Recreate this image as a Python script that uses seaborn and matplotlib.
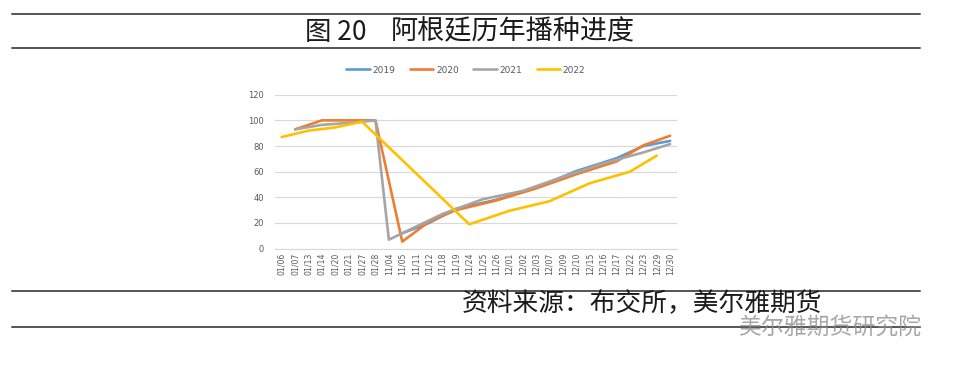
import numpy as np
import pandas as pd
import matplotlib
matplotlib.use("Agg")
import matplotlib.pyplot as plt
import seaborn as sns
from matplotlib.lines import Line2D

# x categories as shown on the axis
dates = ["01/06", "01/07", "01/13", "01/14", "01/20", "01/21", "01/27", "01/28",
         "11/04", "11/05", "11/11", "11/12", "11/18", "11/19", "11/24", "11/25",
         "11/26", "12/01", "12/02", "12/03", "12/07", "12/09", "12/10", "12/15",
         "12/16", "12/17", "12/22", "12/23", "12/29", "12/30"]

# each year only reports on some of the dates
dates_2019 = ["11/05", "11/12", "11/19", "11/26", "12/03", "12/10", "12/17", "12/23", "12/30"]
vals_2019 = [12, 20, 31, 38, 47.5, 60.5, 70.5, 80, 84]

dates_2020 = ["01/07", "01/14", "01/21", "01/28", "11/05", "11/12", "11/19", "11/26",
              "12/03", "12/10", "12/17", "12/23", "12/30"]
vals_2020 = [93, 100, 100, 100, 5.5, 21, 30, 37.5, 47, 58, 68, 80.5, 88]

dates_2021 = ["01/07", "01/14", "01/21", "01/28", "11/04", "11/11", "11/18", "11/25",
              "12/02", "12/09", "12/16", "12/23", "12/30"]
vals_2021 = [93, 96.5, 98, 100, 7, 17, 27, 38.5, 45, 56, 66.5, 75, 81.5]

dates_2022 = ["01/06", "01/13", "01/20", "01/27", "11/24", "12/01", "12/07", "12/15",
              "12/22", "12/29"]
vals_2022 = [87, 92, 94.5, 99, 19, 29.5, 37, 51, 60, 72.5]

years = ["2019", "2020", "2021", "2022"]
colors = ["#5B9BD5", "#ED7D31", "#A5A5A5", "#FFC000"]

rows = []
for yr, dd, vv in zip(years, [dates_2019, dates_2020, dates_2021, dates_2022],
                      [vals_2019, vals_2020, vals_2021, vals_2022]):
    for d, v in zip(dd, vv):
        rows.append({"year": yr, "pos": dates.index(d), "value": v})
df = pd.DataFrame(rows)

sns.set_style("white")
plt.rcParams['font.family'] = ['Noto Sans CJK SC', 'DejaVu Sans']

fig = plt.figure(figsize=(9.6, 3.7), dpi=100)
ax = fig.add_axes([0.2865, 0.328, 0.4185, 0.416])

sns.lineplot(data=df, x="pos", y="value", hue="year", palette=colors,
             linewidth=1.9, ax=ax, legend=False, sort=True)

ax.set_xlim(-0.5, len(dates) - 0.5)
ax.set_ylim(0, 120)
ax.set_yticks(range(0, 121, 20))
ax.set_xticks(range(len(dates)))
ax.set_xticklabels(dates, rotation=90, fontsize=5.6, color="#595959",
                   family="DejaVu Sans")
ax.tick_params(axis="y", labelsize=6, labelcolor="#595959", length=0, pad=8)
ax.tick_params(axis="x", length=0, pad=3)
ax.grid(axis="y", color="#D9D9D9", linewidth=0.8)
ax.set_axisbelow(True)
for s in ["top", "right", "left"]:
    ax.spines[s].set_visible(False)
ax.spines["bottom"].set_color("#D9D9D9")
ax.spines["bottom"].set_linewidth(0.8)
ax.set_xlabel("")
ax.set_ylabel("")
for lbl in ax.get_yticklabels():
    lbl.set_family("DejaVu Sans")

handles = [Line2D([], [], color=c, lw=1.9) for c in colors]
ax.legend(handles, years, ncol=4, loc="center", bbox_to_anchor=(0.475, 1.16),
          frameon=False, handlelength=2.6, columnspacing=1.6,
          handletextpad=0.3, labelcolor="#595959",
          prop={"family": "DejaVu Sans", "size": 6.5})

# title and source block with rules
for y in [1 - 14 / 370, 1 - 48 / 370, 1 - 291 / 370, 1 - 327 / 370]:
    fig.add_artist(Line2D([12 / 960, 920 / 960], [y, y], color="#555555", lw=1.4))
fig.text(305 / 960, 1 - 32 / 370, "图 20", ha="left", va="center",
         fontsize=19, color="#1A1A1A")
fig.text(391 / 960, 1 - 32 / 370, "阿根廷历年播种进度", ha="left", va="center",
         fontsize=19.5, color="#1A1A1A")
fig.text(462 / 960, 1 - 304 / 370, "资料来源：布交所，美尔雅期货", ha="left", va="center",
         fontsize=18.5, color="#1A1A1A")
fig.text(738 / 960, 1 - 328 / 370, "美尔雅期货研究院", ha="left", va="center",
         fontsize=16.5, color="#8A8A8A", alpha=0.75)

fig.savefig("out.png", dpi=100)
